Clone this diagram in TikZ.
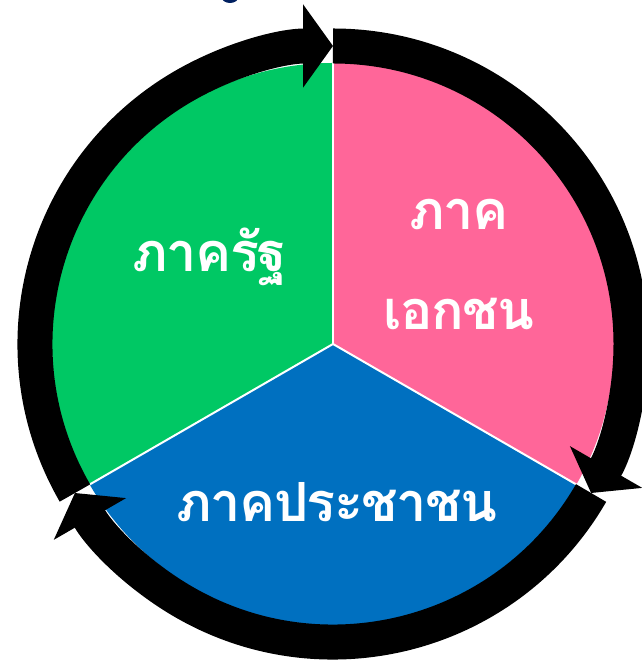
\documentclass[tikz,border=0pt]{standalone}
\usepackage{fontspec}
\newfontfamily\thaifont[Script=Thai, LetterSpace=-3]{Loma}
\usetikzlibrary{arrows.meta, calc}

\definecolor{stategreen}{RGB}{0,200,100}
\definecolor{privatepink}{RGB}{255,102,153}
\definecolor{peopleblue}{RGB}{0,112,192}
\definecolor{titlenavy}{RGB}{0,32,96}

\begin{document}
\begin{tikzpicture}[
  x=1pt, y=1pt,
  sector/.style={draw=white, line width=2pt},
  label/.style={text=white, font=\thaifont\bfseries\fontsize{54}{100}\selectfont,
                inner sep=0pt, align=center},
  ring/.style={line width=35pt, -{Triangle[length=30pt, width=82pt]}}
]
\useasboundingbox (0,0) rectangle (641,663);
\coordinate (c) at (333,319);
% title fragment cut off at the top
\fill[titlenavy] (230,667) ellipse (9 and 7);
% the three sectors
\fill[stategreen]  (c) -- ++(90:281)  arc[start angle=90,  end angle=210, radius=281] -- cycle;
\fill[privatepink] (c) -- ++(-30:281) arc[start angle=-30, end angle=90,  radius=281] -- cycle;
\fill[peopleblue]  (c) -- ++(210:281) arc[start angle=210, end angle=330, radius=281] -- cycle;
\draw[sector] (c) -- ++(90:281);
\draw[sector] (c) -- ++(210:281);
\draw[sector] (c) -- ++(-30:281);
% cycle arrows round the outside
\draw[ring] ($(c)+(210:298)$) arc[start angle=210, end angle=90,   radius=298];
\draw[ring] ($(c)+(90:298)$)  arc[start angle=90,  end angle=-30,  radius=298];
\draw[ring] ($(c)+(-30:298)$) arc[start angle=-30, end angle=-150, radius=298];
% labels
\node[label, anchor=base] (state) at (210,391) {ภาครัฐ};
\node[label, anchor=base] (private1) at (459,433) {ภาค};
\node[label, anchor=base] (private2) at (459,333) {เอกชน};
\node[label, anchor=base] (people) at (337,141) {ภาคประชาชน};
\end{tikzpicture}
\end{document}
